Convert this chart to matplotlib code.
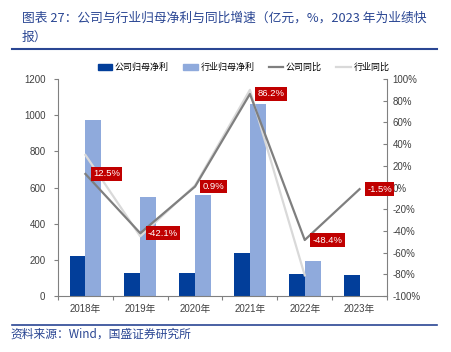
import matplotlib
matplotlib.use("Agg")
import matplotlib.pyplot as plt
import numpy as np
from matplotlib.lines import Line2D

plt.rcParams['font.family'] = ['Liberation Sans', 'Noto Sans CJK SC', 'DejaVu Sans']

years = ['2018年', '2019年', '2020年', '2021年', '2022年', '2023年']
company_profit = [220, 125, 125, 238, 120, 118]
industry_profit = [975, 548, 558, 1060, 195]
company_yoy = [12.5, -42.1, 0.9, 86.2, -48.4, -1.5]
industry_yoy = [30, -45, 2, 90, -81]
yoy_labels = ['12.5%', '-42.1%', '0.9%', '86.2%', '-48.4%', '-1.5%']

c_dark = '#023E9A'
c_light = '#8FAADC'
c_line1 = '#7F7F7F'
c_line2 = '#D9D9D9'
title_col = '#2A4693'

fig = plt.figure(figsize=(4.51, 3.52), dpi=100)
ax = fig.add_axes([58/451, 56/352, 329/451, 217/352])
ax2 = ax.twinx()

x = np.arange(len(years))
w = 0.29
ax.bar(x - w/2, company_profit, width=w, color=c_dark, label='公司归母净利', zorder=2)
ax.bar(x[:len(industry_profit)] + w/2, industry_profit, width=w, color=c_light, label='行业归母净利', zorder=2)

ax2.plot(x[:len(industry_yoy)], industry_yoy, color=c_line2, lw=1.6, label='行业同比', zorder=3)
ax2.plot(x, company_yoy, color=c_line1, lw=1.6, label='公司同比', zorder=4)

for xi, yi, lab in zip(x, company_yoy, yoy_labels):
    ax2.annotate(lab, (xi, yi), xytext=(5.5, 0), textcoords='offset points',
                 ha='left', va='center', fontsize=6.8, color='white', zorder=6,
                 bbox=dict(boxstyle='square,pad=0.25', fc='#C00000', ec='none'))

ax.set_xlim(-0.5, 5.5)
ax.set_ylim(0, 1200)
ax.set_yticks(range(0, 1201, 200))
ax2.set_ylim(-100, 100)
ax2.set_yticks(range(-100, 101, 20))
ax2.set_yticklabels([f'{v}%' for v in range(-100, 101, 20)])
ax.set_xticks(x)
ax.set_xticklabels(years)
ax.set_xticks(np.arange(-0.5, 5.6, 1), minor=True)

for a in (ax, ax2):
    for s in a.spines.values():
        s.set_color('#808080')
        s.set_linewidth(0.8)
    a.spines['top'].set_visible(False)
ax.spines['right'].set_visible(False)
ax2.spines['left'].set_visible(False)
ax2.spines['bottom'].set_visible(False)

ax.tick_params(axis='y', labelsize=7, colors='#404040', length=3, color='#808080', width=0.8, pad=6)
ax.tick_params(axis='x', which='major', length=0, labelsize=7, colors='#404040', pad=5.5)
ax.tick_params(axis='x', which='minor', length=3, color='#808080', width=0.8)
ax2.tick_params(axis='y', labelsize=7, colors='#404040', length=3, direction='in', color='#808080', width=0.8, pad=4)

handles = [
    plt.Rectangle((0, 0), 1, 1, color=c_dark),
    plt.Rectangle((0, 0), 1, 1, color=c_light),
    Line2D([0], [0], color=c_line1, lw=1.6),
    Line2D([0], [0], color=c_line2, lw=1.6),
]
fig.legend(handles, ['公司归母净利', '行业归母净利', '公司同比', '行业同比'],
           loc='center', bbox_to_anchor=(0.54, 0.808), ncol=4, frameon=False,
           handlelength=1.6, handleheight=0.7, columnspacing=1.6,
           handletextpad=0.3, prop={'family': ['Noto Sans CJK SC'], 'size': 6.5})

fig.text(22/451, 1 - 18/352, '图表 27：公司与行业归母净利与同比增速（亿元，%，2023 年为业绩快',
         fontsize=9.2, color=title_col, va='center', ha='left',
         family=['Noto Sans CJK SC'])
fig.text(22/451, 1 - 37/352, '报）', fontsize=9.2, color=title_col, va='center', ha='left',
         family=['Noto Sans CJK SC'])
fig.add_artist(Line2D([12/451, 437/451], [1 - 49/352, 1 - 49/352], color=title_col, lw=1.5))
fig.add_artist(Line2D([12/451, 437/451], [1 - 325/352, 1 - 325/352], color=title_col, lw=1.2))
fig.text(10/451, 1 - 334/352, '资料来源：Wind，国盛证券研究所', fontsize=8.5, color=title_col,
         va='center', ha='left', family=['Noto Sans CJK SC'])

fig.savefig('out.png', dpi=100)
